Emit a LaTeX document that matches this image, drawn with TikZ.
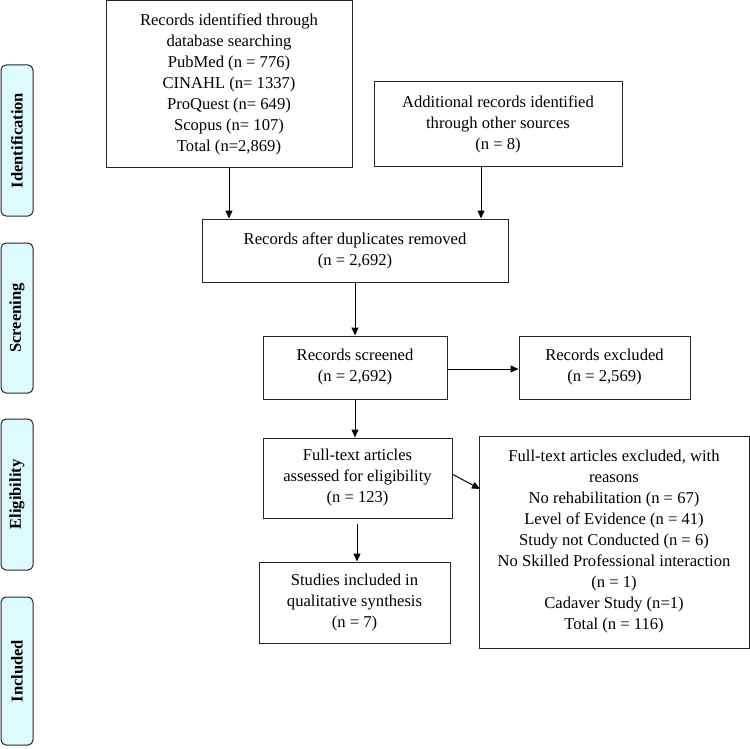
\documentclass[tikz,border=0pt]{standalone}
\usepackage{fontspec}
\setmainfont{Liberation Serif}
\usetikzlibrary{arrows.meta}
\definecolor{sidefill}{HTML}{DDFAFF}
\begin{document}
\begin{tikzpicture}[x=1pt,y=-1pt,
  box/.style={draw=black!85,line width=1pt,align=center,inner sep=0pt,
    font=\fontsize{16.6}{21}\selectfont},
  side/.style={draw=black!85,line width=1pt,fill=sidefill,rounded corners=5pt},
  sidetext/.style={rotate=90,font=\fontsize{16.5}{20}\selectfont\bfseries},
  arr/.style={line width=1pt,-{Triangle[length=8pt,width=7pt]}}]
\useasboundingbox (0,0) rectangle (750,749);
% side bars
\draw[side] (1,65) rectangle (33,216);
\node[sidetext] (sid1) at (17,140.5) {Identification};
\draw[side] (1,243) rectangle (33,393);
\node[sidetext] (sid2) at (17,318) {Screening};
\draw[side] (1,419) rectangle (33,570);
\node[sidetext] (sid3) at (17,494.5) {Eligibility};
\draw[side] (1,597) rectangle (33,745);
\node[sidetext] (sid4) at (17,671) {Included};
% boxes
\node[box,minimum width=246pt,minimum height=167pt] (A) at (229,84.5)
  {Records identified through\\database searching\\PubMed (n = 776)\\CINAHL (n= 1337)\\ProQuest (n= 649)\\Scopus (n= 107)\\Total (n=2,869)};
\node[box,minimum width=248pt,minimum height=85pt] (B) at (498,124.5)
  {Additional records identified\\through other sources\\(n = 8)};
\node[box,minimum width=306pt,minimum height=63pt] (C) at (355,250.5)
  {Records after duplicates removed\\(n = 2,692)};
\node[box,minimum width=184pt,minimum height=63pt] (D) at (355,367.5)
  {Records screened\\(n = 2,692)};
\node[box,minimum width=171pt,minimum height=63pt] (E) at (604.5,367.5)
  {Records excluded\\(n = 2,569)};
\node[box,minimum width=189pt,minimum height=80pt] (F) at (357.5,478)
  {Full-text articles\\assessed for eligibility\\(n = 123)};
\node[box,minimum width=191pt,minimum height=81pt] (G) at (354.5,602.5)
  {Studies included in\\qualitative synthesis\\(n = 7)};
\node[box,minimum width=270pt,minimum height=212pt] (H) at (614,542)
  {Full-text articles excluded, with\\reasons\\No rehabilitation (n = 67)\\Level of Evidence (n = 41)\\Study not Conducted (n = 6)\\No Skilled Professional interaction\\(n = 1)\\Cadaver Study (n=1)\\Total (n = 116)};
% connectors
\coordinate (xa) at (229,0);
\coordinate (xb) at (481,0);
\coordinate (xc) at (355,0);
\coordinate (xf) at (357,0);
\coordinate (fh1) at (452,474);
\coordinate (fh2) at (480,489);
\draw[arr] (A.south -| xa) -- (C.north -| xa);
\draw[arr] (B.south -| xb) -- (C.north -| xb);
\draw[arr] (C.south -| xc) -- (D.north -| xc);
\draw[arr] (D.east) ++(0,1.5) coordinate (de) -- (E.west |- de);
\draw[arr] (D.south -| xc) -- (F.north -| xc);
\draw[arr,shorten <=5pt] (F.south -| xf) -- (G.north -| xf);
\draw[arr] (fh1) -- (fh2);
\end{tikzpicture}
\end{document}
